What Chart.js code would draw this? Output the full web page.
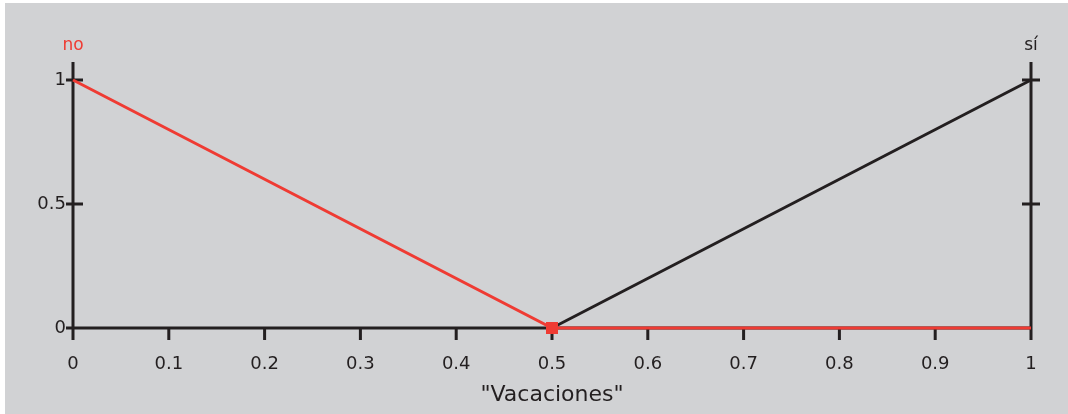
<!DOCTYPE html>
<html>
<head>
<meta charset="utf-8">
<script src="https://cdn.jsdelivr.net/npm/chart.js@4"></script>
<style>
  html, body { margin: 0; padding: 0; background: #ffffff; }
  #wrap { position: absolute; left: 5px; top: 3px; width: 1063px; height: 411px; background: #d1d2d4; }
</style>
</head>
<body>
<div id="wrap"><canvas id="fuzzyChart" width="1063" height="411"></canvas></div>
<script>
// membership data for "Vacaciones"
const xValues = [0, 0.5, 1];
const noValues = [1, 0, 0];
const siValues = [null, 0, 1];
const xTicks = [0, 0.1, 0.2, 0.3, 0.4, 0.5, 0.6, 0.7, 0.8, 0.9, 1];
const yTicks = [0, 0.5, 1];
const setNames = ["no", "sí"];

const RED = "#ef3b33";
const INK = "#231f20";
const FONT = "'DejaVu Sans', sans-serif";

// axes with ticks crossing the line, drawn from the chart's scales
const axesPlugin = {
    id: "crossAxes",
    beforeDatasetsDraw(chart) {
        const ctx = chart.ctx;
        const x = chart.scales.x;
        const y = chart.scales.y;
        const x0 = x.getPixelForValue(0);
        const x1 = x.getPixelForValue(1);
        const y0 = y.getPixelForValue(0);
        const yTop = y.getPixelForValue(1);

        ctx.save();
        ctx.strokeStyle = INK;
        ctx.lineWidth = 3;
        ctx.lineCap = "butt";
        ctx.beginPath();
        // vertical axes
        ctx.moveTo(x0, yTop - 18); ctx.lineTo(x0, y0 + 12);
        ctx.moveTo(x1, yTop - 18); ctx.lineTo(x1, y0 + 12);
        // horizontal axis
        ctx.moveTo(x0, y0); ctx.lineTo(x1, y0);
        // y ticks
        yTicks.forEach(v => {
            const py = y.getPixelForValue(v);
            ctx.moveTo(x0 - 7, py); ctx.lineTo(x0 + 10, py);
            if (v > 0) { ctx.moveTo(x1 - 9, py); ctx.lineTo(x1 + 9, py); }
        });
        // x ticks
        xTicks.forEach(v => {
            const px = x.getPixelForValue(v);
            ctx.moveTo(px, y0); ctx.lineTo(px, y0 + 12);
        });
        ctx.stroke();

        // set names above the axes
        ctx.font = "17px " + FONT;
        ctx.textAlign = "center";
        ctx.textBaseline = "middle";
        ctx.fillStyle = RED;
        ctx.fillText(setNames[0], x0, yTop - 34);
        ctx.fillStyle = INK;
        ctx.fillText(setNames[1], x1, yTop - 34);
        ctx.restore();
    }
};

const ctx = document.getElementById("fuzzyChart").getContext("2d");
new Chart(ctx, {
    type: "line",
    data: {
        datasets: [
            // first dataset is painted last, so the red set sits on top
            {
                label: setNames[0],
                data: xValues.map((v, i) => ({ x: v, y: noValues[i] })),
                borderColor: RED,
                backgroundColor: RED,
                borderWidth: 3,
                pointStyle: "rect",
                pointRadius: c => (c.dataIndex === 1 ? 8.5 : 0),
                pointBackgroundColor: RED,
                pointBorderColor: RED,
                pointBorderWidth: 0,
                clip: false
            },
            {
                label: setNames[1],
                data: xValues.map((v, i) => ({ x: v, y: siValues[i] })),
                borderColor: INK,
                borderWidth: 3,
                pointRadius: 0,
                spanGaps: false,
                clip: false
            }
        ]
    },
    options: {
        responsive: false,
        animation: false,
        layout: { padding: { top: 77, left: 0, right: 0, bottom: 0 } },
        plugins: {
            legend: { display: false },
            tooltip: { enabled: false }
        },
        scales: {
            x: {
                type: "linear",
                min: 0,
                max: 1,
                afterBuildTicks: s => { s.ticks = xTicks.map(v => ({ value: v })); },
                afterFit: s => { s.height = 86; },
                grid: { display: false, drawTicks: false },
                border: { display: false },
                ticks: {
                    color: INK,
                    font: { family: FONT, size: 18 },
                    padding: 26,
                    maxRotation: 0,
                    autoSkip: false,
                    callback: v => String(v)
                },
                title: {
                    display: true,
                    text: "\"Vacaciones\"",
                    color: INK,
                    font: { family: FONT, size: 22 },
                    padding: { top: 0, bottom: 6 }
                }
            },
            y: {
                min: 0,
                max: 1,
                afterBuildTicks: s => { s.ticks = yTicks.map(v => ({ value: v })); },
                afterFit: s => { s.width = 68; },
                grid: { display: false, drawTicks: false },
                border: { display: false },
                ticks: {
                    color: INK,
                    font: { family: FONT, size: 18 },
                    padding: 7,
                    callback: v => String(v)
                }
            },
            y2: {
                position: "right",
                min: 0,
                max: 1,
                afterFit: s => { s.width = 37; },
                grid: { display: false, drawTicks: false },
                border: { display: false },
                ticks: { display: false }
            }
        }
    },
    plugins: [axesPlugin]
});
</script>
</body>
</html>
